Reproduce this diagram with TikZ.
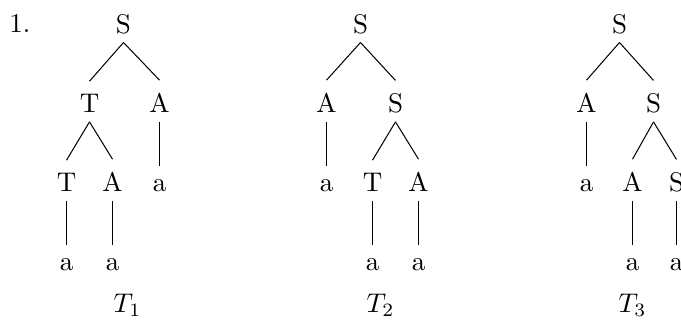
\documentclass[tikz,border=0pt]{standalone}
\begin{document}
\begin{tikzpicture}[x=0.3704pt,y=-0.3704pt,
  lab/.style={inner sep=0pt,anchor=base},
  edge/.style={line width=0.38pt}]
\useasboundingbox (0,0) rectangle (681,320);
\newcommand{\tedge}[2]{\draw[edge] ([yshift=-3.4pt]#1.base) -- ([yshift=4.7pt]#2.north);}
\begin{scope}[xshift=0.185pt]
\node[lab] (num) at (19.5,32.7) {1.};
% Tree 1
\node[lab] (aS) at (123,33.3) {S};
\node[lab] (aT) at (89,112.7) {T};
\node[lab] (aA) at (159,112.7) {A};
\node[lab] (aTT) at (66,191.7) {T};
\node[lab] (aTA) at (112,191.7) {A};
\node[lab] (aAa) at (159,191.7) {a};
\node[lab] (aTTa) at (66,270.7) {a};
\node[lab] (aTAa) at (112,270.7) {a};
\node[lab] (aL) at (127,312) {$T_1$};
\tedge{aS}{aT}\tedge{aS}{aA}
\tedge{aT}{aTT}\tedge{aT}{aTA}\tedge{aA}{aAa}
\tedge{aTT}{aTTa}\tedge{aTA}{aTAa}
% Tree 2
\node[lab] (bS) at (360,33.3) {S};
\node[lab] (bA) at (326,112.7) {A};
\node[lab] (bS2) at (395,112.7) {S};
\node[lab] (bAa) at (326,191.7) {a};
\node[lab] (bT) at (372,191.7) {T};
\node[lab] (bA2) at (418,191.7) {A};
\node[lab] (bTa) at (372,270.7) {a};
\node[lab] (bA2a) at (418,270.7) {a};
\node[lab] (bL) at (380,312) {$T_2$};
\tedge{bS}{bA}\tedge{bS}{bS2}
\tedge{bA}{bAa}\tedge{bS2}{bT}\tedge{bS2}{bA2}
\tedge{bT}{bTa}\tedge{bA2}{bA2a}
% Tree 3
\node[lab] (cS) at (619,33.3) {S};
\node[lab] (cA) at (586,112.7) {A};
\node[lab] (cS2) at (653,112.7) {S};
\node[lab] (cAa) at (586,191.7) {a};
\node[lab] (cA2) at (632,191.7) {A};
\node[lab] (cS3) at (676,191.7) {S};
\node[lab] (cA2a) at (632,270.7) {a};
\node[lab] (cS3a) at (676,270.7) {a};
\node[lab] (cL) at (632,312) {$T_3$};
\tedge{cS}{cA}\tedge{cS}{cS2}
\tedge{cA}{cAa}\tedge{cS2}{cA2}\tedge{cS2}{cS3}
\tedge{cA2}{cA2a}\tedge{cS3}{cS3a}
\end{scope}
\end{tikzpicture}
\end{document}
